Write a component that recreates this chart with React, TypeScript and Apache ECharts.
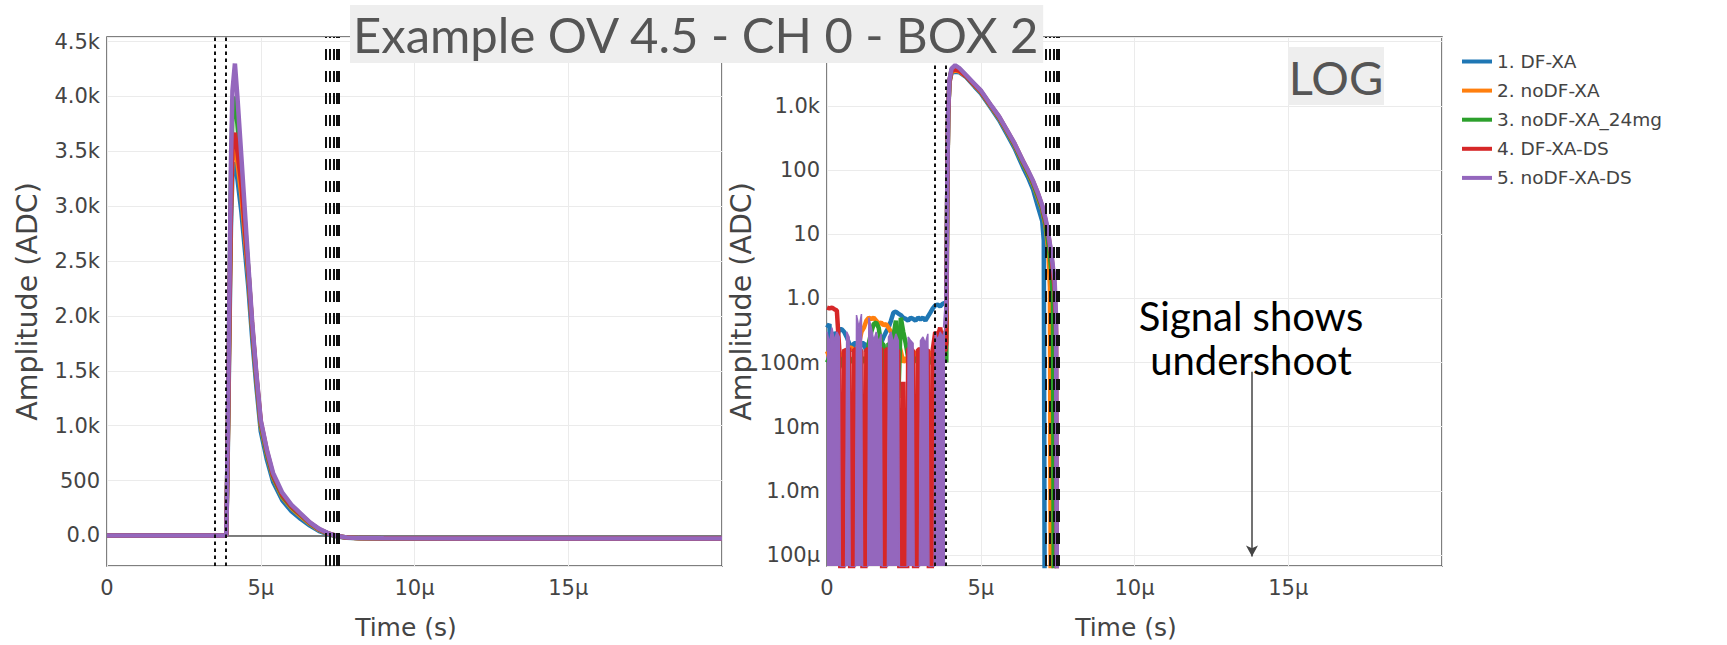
import React, { useEffect, useRef } from "react";
import * as echarts from "echarts";

// ---------- chart text ----------
const TITLE = "Example OV 4.5 - CH 0 - BOX 2";
const LOG_BADGE = "LOG";
const NOTE_TEXT = "Signal shows\nundershoot";
const X_NAME = "Time (s)";
const Y_NAME = "Amplitude (ADC)";

// ---------- series ----------
const SERIES_NAMES = ["1. DF-XA", "2. noDF-XA", "3. noDF-XA_24mg", "4. DF-XA-DS", "5. noDF-XA-DS"];
const SERIES_COLORS = ["#1f77b4", "#ff7f0e", "#2ca02c", "#d62728", "#9467bd"];

// pre-trigger noise (time in µs, amplitude in ADC) shared by both panels
const NOISE_T = [0, 0.08, 0.16, 0.24, 0.32, 0.4, 0.48, 0.56, 0.64, 0.72, 0.8, 0.88, 0.96, 1.04, 1.12, 1.2, 1.28, 1.36, 1.44, 1.52, 1.6, 1.68, 1.76, 1.84, 1.92, 2, 2.08, 2.16, 2.24, 2.32, 2.4, 2.48, 2.56, 2.64, 2.72, 2.8, 2.88, 2.96, 3.04, 3.12, 3.2, 3.28, 3.36, 3.44, 3.52, 3.6, 3.68, 3.76, 3.84];
const NOISE_BLUE = [0.35, 0.4, 0.011, 0.3, 0.25, 0.33, 0.33, 0.3, 0.25, 0.2, 0.15, 0.2, 0.2, 0.15, 0.2, 0.2, 0.15, 0.2, 0.2, 0.18, 0.2, 0.2, 0.2, 0.25, 0.3, 0.35, 0.45, 0.6, 0.62, 0.58, 0.55, 0.5, 0.48, 0.45, 0.5, 0.48, 0.45, 0.5, 0.47, 0.5, 0.45, 0.52, 0.6, 0.7, 0.78, 0.8, 0.75, 0.82, 0.85];
const NOISE_ORANGE = [0.15, 0.12, 0.15, 0.1, 0.12, 0.15, 0.1, 0.12, 0.15, 0.17, 0.17, 0.15, 0.15, 0.2, 0.3, 0.35, 0.45, 0.5, 0.48, 0.5, 0.45, 0.4, 0.42, 0.38, 0.4, 0.35, 0.3, 0.3, 0.25, 0.2, 0.15, 0.1, 0.12, 0.1, 0.15, 0.12, 0.15, 0.1, 0.12, 0.15, 0.12, 0.1, 0.15, 0.12, 0.15, 0.1, 0.15, 0.2, 0.3];
const NOISE_GREEN = [0.1, 0.12, 0.1, 0.08, 0.1, 0.12, 0.1, 0.08, 0.1, 0.12, 0.1, 0.12, 0.1, 0.08, 0.1, 0.12, 0.1, 0.2, 0.3, 0.4, 0.42, 0.35, 0.2, 0.19, 0.03, 0.2, 0.19, 0.25, 0.45, 0.028, 0.5, 0.3, 0.2, 0.12, 0.1, 0.1, 0.12, 0.1, 0.08, 0.1, 0.12, 0.1, 0.1, 0.12, 0.1, 0.1, 0.12, 0.1, 0.15];
const NOISE_RED = [0.72, 0.7, 0.72, 0.68, 0.65, 0.16, -0.3, 0.16, 0.15, 0.17, -0.3, 0.16, 0.16, 0.17, 0.15, -0.3, 0.16, 0.16, 0.15, 0.17, 0.16, 0.15, 0.17, -0.3, 0.16, 0.16, 0.15, 0.17, 0.16, 0.15, -0.3, 0.05, -0.3, 0.16, 0.17, 0.15, -0.3, 0.16, 0.16, 0.17, 0.15, 0.16, -0.3, 0.16, 0.3, 0.25, 0.35, 0.2, 0.15];
const NOISE_PURPLE = [0.3, 0.2, 0.35, 0.22, 0.3, 0.25, -0.3, -0.3, 0.3, 0.25, -0.3, -0.3, 0.55, 0.35, 0.57, -0.3, -0.3, 0.5, 0.35, 0.22, 0.3, 0.2, 0.28, -0.3, -0.3, 0.25, 0.3, 0.2, 0.28, 0.22, -0.3, -0.3, -0.3, 0.25, 0.22, 0.2, -0.3, -0.3, 0.22, 0.25, 0.2, 0.28, -0.3, -0.3, 0.3, 0.22, 0.3, 0.25, 0.35];

// pulse + tail
const LIN_T = [3.88, 3.93, 3.98, 4.03, 4.08, 4.16, 4.24, 4.37, 4.6, 4.72, 4.85, 5.0, 5.2, 5.4, 5.7, 6.0, 6.3, 6.6, 6.9, 7.2, 7.5, 7.8, 8.2, 9, 12, 16, 20];
const LIN_BLUE = [0, 800, 1800, 2800, 3300, 3400, 3250, 2950, 2250, 1800, 1380, 950, 690, 490, 320, 220, 150, 90, 40, 10, -10, -20, -25, -27, -28, -28, -28];
const LIN_ORANGE = [0, 850, 1900, 2950, 3450, 3550, 3400, 3100, 2350, 1880, 1450, 1000, 740, 530, 350, 250, 175, 105, 50, 15, -8, -19, -25, -27, -28, -28, -28];
const LIN_GREEN = [0, 950, 2100, 3200, 3850, 4000, 3750, 3300, 2400, 1900, 1460, 1020, 750, 540, 360, 260, 185, 110, 55, 17, -7, -19, -24, -26, -27, -27, -27];
const LIN_RED = [0, 900, 2000, 3000, 3550, 3670, 3500, 3200, 2400, 1920, 1480, 1040, 770, 550, 370, 265, 190, 115, 57, 18, -6, -18, -24, -26, -27, -27, -27];
const LIN_PURPLE = [0, 1000, 2200, 3400, 4050, 4300, 4000, 3450, 2450, 1950, 1500, 1050, 780, 570, 390, 280, 200, 120, 60, 20, -5, -18, -24, -26, -27, -27, -27];

// pulse + tail
const LOG_T = [3.88, 3.91, 3.94, 3.98, 4.05, 4.17, 4.3, 4.53, 4.8, 5.0, 5.35, 5.6, 5.83, 6.1, 6.37, 6.53, 6.7, 6.85, 7.0, 7.05, 7.1, 7.15, 7.2, 7.25, 7.3, 7.35, 7.4, 7.45, 7.5, 7.6, 8, 20];
const LOG_BLUE = [0.85, 40, 700, 2300, 3300, 3400, 3350, 2800, 2000, 1580, 900, 600, 380, 220, 112, 78, 50, 28, 16, 8, -1, -5, -10, -15, -20, -22, -25, -26, -27, -28, -28, -28];
const LOG_ORANGE = [0.3, 40, 700, 2300, 3400, 3550, 3450, 2880, 2080, 1650, 950, 640, 410, 240, 128, 90, 60, 38, 24, 18, 14, 9, 5, 1.5, -1, -5, -10, -15, -20, -22, -26, -28];
const LOG_GREEN = [0.1, 45, 750, 2400, 3700, 4000, 3800, 2900, 2100, 1680, 960, 650, 420, 245, 130, 92, 62, 40, 25, 19, 15, 10, 7, 4.5, 2.5, 0.8, -1, -5, -10, -18, -25, -27];
const LOG_RED = [0.2, 45, 750, 2400, 3600, 3670, 3550, 2900, 2130, 1700, 980, 670, 430, 255, 138, 98, 66, 44, 27, 21, 17, 13, 9.5, 6.5, 4.5, 2.5, 1.5, 0.3, -3, -15, -25, -27];
const LOG_PURPLE = [0.7, 50, 800, 2500, 3800, 4300, 3900, 3000, 2200, 1750, 1000, 680, 440, 260, 140, 100, 68, 45, 28, 22, 18, 14, 10, 7, 5, 3, 2, 0.5, -3, -15, -25, -27];

// vertical reference lines (µs)
const DOTTED_T = [3.51, 3.86];
const DASHED_T = [7.1, 7.25, 7.38, 7.46, 7.53];

// annotation arrow (µs, ADC)
const ARROW_T = 13.82;
const ARROW_FROM = 0.072;
const ARROW_TO = 9.5e-5;

// ---------- axes ----------
const X_MIN = 0;
const X_MAX = 20;
const X_TICK_VALUES = [0, 5, 10, 15];
const X_TICK_LABELS = ["0", "5μ", "10μ", "15μ"];
const LIN_Y_MIN = -278;
const LIN_Y_MAX = 4542;
const LIN_TICK_VALUES = [0, 500, 1000, 1500, 2000, 2500, 3000, 3500, 4000, 4500];
const LIN_TICK_LABELS = ["0.0", "500", "1.0k", "1.5k", "2.0k", "2.5k", "3.0k", "3.5k", "4.0k", "4.5k"];
const LOG_Y_MIN = 6.75e-5;
const LOG_Y_MAX = 11858;
const LOG_TICK_VALUES = [1e-4, 1e-3, 1e-2, 0.1, 1, 10, 100, 1000];
const LOG_TICK_LABELS = ["100μ", "1.0m", "10m", "100m", "1.0", "10", "100", "1.0k"];

const NOISE = [NOISE_BLUE, NOISE_ORANGE, NOISE_GREEN, NOISE_RED, NOISE_PURPLE];
const LIN = [LIN_BLUE, LIN_ORANGE, LIN_GREEN, LIN_RED, LIN_PURPLE];
const LOG = [LOG_BLUE, LOG_ORANGE, LOG_GREEN, LOG_RED, LOG_PURPLE];

const LOG_FLOOR = 1e-9; // non-positive samples fall off the bottom of a log axis
const clampLog = (d: number[][]) => d.map(([t, v]) => [t, v > 0 ? v : LOG_FLOOR]);
const pairs = (ts: number[], vs: number[]) => ts.map((t, i) => [t, vs[i]]);

const lookup = (values: number[], labels: string[]) => (v: number) => {
  const i = values.findIndex((t) => Math.abs(t - v) < 1e-9 * Math.max(1, Math.abs(t)));
  return i >= 0 ? labels[i] : "";
};
const logLookup = (v: number) => {
  const lv = Math.log10(v);
  const i = LOG_TICK_VALUES.findIndex((t) => Math.abs(Math.log10(t) - lv) < 1e-6);
  return i >= 0 ? LOG_TICK_LABELS[i] : "";
};

const TICK_FONT = { fontFamily: "DejaVu Sans", fontSize: 21, color: "#444" };
const SPLIT = { show: true, lineStyle: { color: "#ebebeb", width: 1 } };
const LINE_W = 4.5;

const vLines = () => [
  ...DOTTED_T.map((x) => ({ xAxis: x, lineStyle: { type: [3.5, 3.5], width: 2, color: "#111" } })),
  ...DASHED_T.map((x) => ({ xAxis: x, lineStyle: { type: [11, 11], width: 2, color: "#111" } })),
];

const lineSeries = (i: number, panel: number, data: number[][], extra: any = {}) => ({
  type: "line",
  name: SERIES_NAMES[i],
  xAxisIndex: panel,
  yAxisIndex: panel,
  data,
  showSymbol: false,
  symbol: "none",
  clip: true,
  color: SERIES_COLORS[i],
  lineStyle: { width: LINE_W, color: SERIES_COLORS[i] },
  emphasis: { disabled: true },
  z: 2,
  ...extra,
});

function buildOption() {
  const series: any[] = [];

  // linear panel
  for (let i = 0; i < 5; i++) {
    const data = [...pairs(NOISE_T, NOISE[i]), ...pairs(LIN_T, LIN[i])];
    const extra: any = {};
    if (i === 0) {
      extra.markLine = {
        silent: true,
        z: 1,
        symbol: ["none", "none"],
        label: { show: false },
        data: [{ yAxis: 0, lineStyle: { type: "solid", width: 1.5, color: "#555" } }],
      };
    }
    if (i === 4) {
      extra.markLine = { silent: true, symbol: ["none", "none"], label: { show: false }, data: vLines() };
    }
    series.push(lineSeries(i, 0, data, extra));
  }

  // log panel: blue, orange, green, red full traces
  for (let i = 0; i < 4; i++) {
    const data = clampLog([...pairs(NOISE_T, NOISE[i]), ...pairs(LOG_T, LOG[i])]);
    const extra: any = {};
    if (i === 0) {
      extra.markLine = {
        silent: true,
        symbol: ["none", "arrow"],
        symbolSize: [9, 11],
        label: { show: false },
        lineStyle: { type: "solid", width: 1.5, color: "#444" },
        data: [[{ coord: [ARROW_T, ARROW_FROM] }, { coord: [ARROW_T, ARROW_TO] }]],
      };
    }
    series.push(lineSeries(i, 1, data, extra));
  }
  // log panel: purple on top, its dense pre-trigger noise drawn as a filled trace
  series.push(
    lineSeries(4, 1, clampLog(pairs(NOISE_T, NOISE_PURPLE)), {
      z: 3,
      lineStyle: { width: 1.5, color: SERIES_COLORS[4] },
      areaStyle: { color: SERIES_COLORS[4], opacity: 1, origin: "start" },
    })
  );
  series.push(
    lineSeries(4, 1, clampLog([...pairs(NOISE_T, NOISE_PURPLE).slice(-1), ...pairs(LOG_T, LOG_PURPLE)]), {
      z: 3,
      markLine: { silent: true, symbol: ["none", "none"], label: { show: false }, data: vLines() },
    })
  );

  const grid = (left: number) => ({
    left,
    top: 37,
    width: 615,
    height: 531,
    show: true,
    borderColor: "#555",
    borderWidth: 1.5,
    backgroundColor: "#fff",
  });

  const xAxis = (gridIndex: number) => ({
    gridIndex,
    type: "value",
    min: X_MIN,
    max: X_MAX,
    interval: 5,
    axisLine: { show: false },
    axisTick: { show: false },
    splitLine: SPLIT,
    axisLabel: { ...TICK_FONT, margin: 11, showMaxLabel: false, formatter: lookup(X_TICK_VALUES, X_TICK_LABELS) },
    name: X_NAME,
    nameLocation: "middle",
    nameGap: 49,
    nameTextStyle: { fontFamily: "DejaVu Sans", fontSize: 25, color: "#444", padding: [0, 17, 0, 0] },
  });

  const yName = { fontFamily: "DejaVu Sans", fontSize: 28.5, color: "#444" };

  return {
    animation: false,
    backgroundColor: "#fff",
    title: {
      text: TITLE,
      left: 350,
      top: 5,
      padding: [4, 3, 4, 3],
      backgroundColor: "#eeeeee",
      textStyle: { fontFamily: "Lato", fontSize: 49, fontWeight: "normal", color: "#555", lineHeight: 50 },
    },
    legend: {
      data: SERIES_NAMES,
      orient: "vertical",
      left: 1457,
      top: 47,
      icon: "rect",
      itemWidth: 30,
      itemHeight: 4,
      itemGap: 10.1,
      textStyle: { fontFamily: "DejaVu Sans", fontSize: 18.5, color: "#444" },
    },
    grid: [grid(107), grid(827)],
    xAxis: [xAxis(0), xAxis(1)],
    yAxis: [
      {
        gridIndex: 0,
        type: "value",
        min: LIN_Y_MIN,
        max: LIN_Y_MAX,
        splitNumber: 9,
        axisLine: { show: false },
        axisTick: { show: false },
        splitLine: SPLIT,
        axisLabel: { ...TICK_FONT, margin: 7, showMinLabel: false, showMaxLabel: false, formatter: lookup(LIN_TICK_VALUES, LIN_TICK_LABELS) },
        name: Y_NAME,
        nameLocation: "middle",
        nameGap: 65,
        nameTextStyle: yName,
      },
      {
        gridIndex: 1,
        type: "log",
        logBase: 10,
        min: LOG_Y_MIN,
        max: LOG_Y_MAX,
        axisLine: { show: false },
        axisTick: { show: false },
        splitLine: SPLIT,
        axisLabel: { ...TICK_FONT, margin: 7, showMinLabel: false, showMaxLabel: false, formatter: logLookup },
        name: Y_NAME,
        nameLocation: "middle",
        nameGap: 69,
        nameTextStyle: yName,
      },
    ],
    graphic: [
      { type: "rect", z: 10, shape: { x: 1288, y: 47, width: 96, height: 58 }, style: { fill: "#eeeeee" } },
      {
        type: "text",
        z: 11,
        x: 1336,
        y: 77,
        style: { text: LOG_BADGE, fontFamily: "Lato", fontSize: 47, fill: "#555", align: "center", verticalAlign: "middle" },
      },
      {
        type: "text",
        z: 11,
        x: 1251,
        y: 338,
        style: {
          text: NOTE_TEXT,
          fontFamily: "Lato",
          fontSize: 40,
          lineHeight: 44,
          fill: "#000",
          align: "center",
          verticalAlign: "middle",
        },
      },
    ],
    series,
  };
}

export default function App() {
  const ref = useRef<HTMLDivElement>(null);
  useEffect(() => {
    if (!ref.current) return;
    const chart = echarts.init(ref.current, null, { renderer: "svg" });
    chart.setOption(buildOption() as any);
    return () => chart.dispose();
  }, []);
  return (
    <div
      ref={ref}
      style={{ position: "fixed", left: 0, top: 0, width: 1727, height: 645, background: "#fff" }}
    />
  );
}
